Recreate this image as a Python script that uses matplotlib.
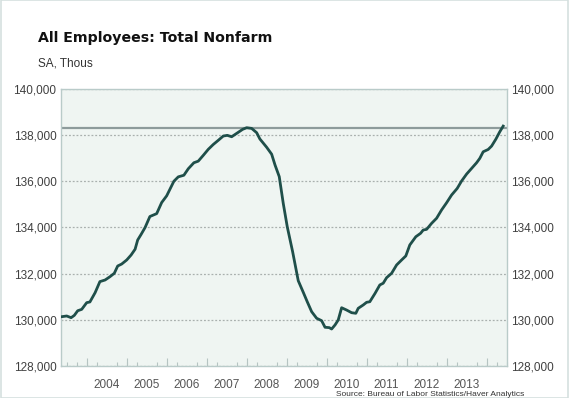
import matplotlib
matplotlib.use("Agg")
import matplotlib.pyplot as plt
import numpy as np
from matplotlib.patches import Rectangle

# Data (decimal year, thousands of employees, SA)
years = [2003.375, 2003.5, 2003.61, 2003.69, 2003.775, 2003.875, 2004.0, 2004.08,
         2004.21, 2004.33, 2004.46, 2004.58, 2004.69, 2004.775, 2004.875, 2005.0,
         2005.11, 2005.21, 2005.275, 2005.36, 2005.46, 2005.58, 2005.75, 2005.875,
         2006.0, 2006.18, 2006.29, 2006.43, 2006.54, 2006.68, 2006.79, 2006.915,
         2007.04, 2007.165, 2007.29, 2007.415, 2007.515, 2007.625, 2007.75, 2007.9,
         2008.0, 2008.125, 2008.25, 2008.33, 2008.5, 2008.625, 2008.71, 2008.815,
         2008.915, 2009.015, 2009.15, 2009.29, 2009.415, 2009.515, 2009.625, 2009.75,
         2009.875, 2009.96, 2010.065, 2010.125, 2010.21, 2010.29, 2010.375, 2010.5,
         2010.625, 2010.73, 2010.79, 2010.915, 2011.0, 2011.08, 2011.21, 2011.33,
         2011.415, 2011.5, 2011.625, 2011.75, 2011.875, 2011.98, 2012.08, 2012.23,
         2012.35, 2012.415, 2012.5, 2012.625, 2012.75, 2012.875, 2013.0, 2013.125,
         2013.265, 2013.375, 2013.5, 2013.625, 2013.75, 2013.83, 2013.915, 2014.04,
         2014.125, 2014.23, 2014.33, 2014.415]
employees = [130143, 130173, 130100, 130200, 130400, 130460, 130750, 130780,
             131180, 131660, 131730, 131870, 132020, 132335, 132420, 132595,
             132810, 133060, 133460, 133700, 134000, 134475, 134600, 135080,
             135370, 136000, 136190, 136260, 136540, 136800, 136870, 137120,
             137380, 137590, 137770, 137955, 137985, 137925, 138070, 138245,
             138315, 138285, 138100, 137830, 137470, 137170, 136700, 136200,
             135045, 134035, 132950, 131700, 131200, 130790, 130360, 130075,
             129970, 129685, 129670, 129610, 129785, 130000, 130530, 130430,
             130315, 130290, 130505, 130650, 130765, 130790, 131150, 131515,
             131590, 131830, 132020, 132380, 132595, 132770, 133245, 133600,
             133750, 133890, 133920, 134180, 134400, 134760, 135070, 135405,
             135690, 136010, 136310, 136555, 136800, 136990, 137275, 137375,
             137520, 137815, 138140, 138385]
previous_peak = 138300
year_labels = [2004, 2005, 2006, 2007, 2008, 2009, 2010, 2011, 2012, 2013]
y_ticks = [128000, 130000, 132000, 134000, 136000, 138000, 140000]

fig = plt.figure(figsize=(5.69, 3.98), dpi=100)
fig.patch.set_facecolor("white")
ax = fig.add_axes([0.1067, 0.0798, 0.7843, 0.6972])
ax.set_facecolor("#eff5f2")

ax.plot(years, employees, color="#1f4f4a", lw=2.0, solid_joinstyle="round", zorder=3)
ax.axhline(previous_peak, color="#8d9b9b", lw=1.6, zorder=2)

ax.set_xlim(2003.35, 2014.51)
ax.set_ylim(128000, 140000)

# y axis: labels both sides, dotted grid
ax.set_yticks(y_ticks)
ax.set_yticklabels([f"{v:,}" for v in y_ticks])
ax.yaxis.grid(True, linestyle=(0, (1.5, 1.5)), color="#a9b0ae", lw=0.9)
ax.tick_params(axis="y", length=0, pad=3, labelsize=8.5, labelcolor="#404040",
               left=True, right=True, labelleft=True, labelright=True)
for t in ax.yaxis.get_major_ticks():
    t.label1.set_family("Liberation Sans")
    t.label2.set_family("Liberation Sans")

# x axis: labels at mid-year, quarterly minor ticks, year-boundary ticks
ax.set_xticks([y + 0.5 for y in year_labels])
ax.set_xticklabels([str(y) for y in year_labels])
ax.tick_params(axis="x", which="major", length=0, pad=9, labelsize=8.5,
               labelcolor="#555555")
for lab in ax.get_xticklabels():
    lab.set_family("Liberation Sans")
quarters = np.arange(2003.5, 2014.51, 0.25)
ax.set_xticks(quarters, minor=True)
ax.tick_params(axis="x", which="minor", direction="in", length=3, width=0.8,
               color="#b6c4c2")
sec = ax.secondary_xaxis("bottom")
sec.set_xticks(list(range(2004, 2015)))
sec.set_xticklabels([])
sec.tick_params(direction="in", length=6, width=0.8, color="#b6c4c2")
sec.spines["bottom"].set_visible(False)

for s in ax.spines.values():
    s.set_color("#b9cbc9")
    s.set_linewidth(1.0)

fig.text(38 / 569, 1 - 38 / 398, "All Employees: Total Nonfarm", fontsize=10.2,
         fontweight="bold", color="#111111", va="center", ha="left")
fig.text(38 / 569, 1 - 64 / 398, "SA, Thous", fontsize=8.5, color="#333333",
         va="center", ha="left", family="Liberation Sans")
fig.text(336 / 569, 0.0,
         "Source: Bureau of Labor Statistics/Haver Analytics", fontsize=6,
         color="#333333", va="bottom", ha="left", family="Liberation Sans")

fig.add_artist(Rectangle((0.0015, 0.0), 0.997, 0.999, transform=fig.transFigure,
                         fill=False, edgecolor="#d5e0df", lw=1.2))

fig.savefig("out.png", dpi=100, facecolor="white")
